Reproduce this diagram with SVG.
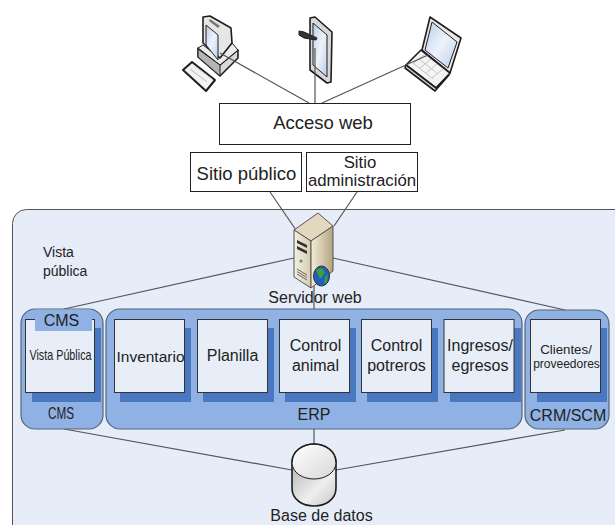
<svg xmlns="http://www.w3.org/2000/svg" width="615" height="525" viewBox="0 0 615 525">
<style>
text{font-family:"Liberation Sans",Arial,sans-serif;fill:#222;text-anchor:middle}
.f18{font-size:18.500px}.f17{font-size:16.800px}.f16{font-size:16px}.f15{font-size:15.500px}
.box{fill:#fff;stroke:#222;stroke-width:1}
.wbox{fill:#e8eef8;stroke:#333;stroke-width:1}
.sh{fill:#4a78c0}
.grp{fill:#8fb1e3;stroke:#55657a;stroke-width:1.2}
.ln{stroke:#555;stroke-width:1.2;fill:none}
.ic{stroke:#1e1e1e;stroke-width:1.6;stroke-linejoin:round}
</style>
<defs>
<linearGradient id="scr" x1="0" y1="0" x2="1" y2="1"><stop offset="0" stop-color="#b9cdea"/><stop offset=".5" stop-color="#eef3fb"/><stop offset="1" stop-color="#b9cdea"/></linearGradient>
<linearGradient id="srvF" x1="0" y1="0" x2="1" y2="0"><stop offset="0" stop-color="#f4efe2"/><stop offset="1" stop-color="#d8ccb0"/></linearGradient>
<linearGradient id="srvS" x1="0" y1="0" x2="1" y2="0"><stop offset="0" stop-color="#f3ecd9"/><stop offset="1" stop-color="#b5a47f"/></linearGradient>
<linearGradient id="cyl" x1="0" y1="0" x2="1" y2="1"><stop offset="0" stop-color="#b4b4b4"/><stop offset=".6" stop-color="#efefef"/><stop offset="1" stop-color="#c4c4c4"/></linearGradient>
<linearGradient id="cylT" x1="0" y1="0" x2="1" y2="1"><stop offset="0" stop-color="#fff"/><stop offset="1" stop-color="#d8d8d8"/></linearGradient>
</defs>
<rect width="615" height="525" fill="#fff"/>
<rect id="panel" x="12.500" y="209.500" width="620" height="340" rx="14" fill="#e6edf8" stroke="#555" stroke-width="1"/>
<g id="desktop" class="ic">
<path d="M183 70 192 62 215 80 206 91Z" fill="#f2f2f2" stroke-width="2"/>
<path d="M190 69 207 82M195 66 212 79" stroke="#bbb" stroke-width="1" fill="none"/>
<path d="M198 48 220 65 238 50V58L220 76 198 57Z" fill="#d8d8d8"/>
<path d="M198 48 203 45 220 58 232 43 238 50 220 65Z" fill="#ececec" stroke-width="1"/>
<path d="M198 49 220 65V76L198 57Z" fill="#b4b4b4" stroke-width="1"/>
<path d="M203 17 210 16 231 28 232 43 220 58 203 43Z" fill="#e6e6e6"/>
<path d="M210 19 220 26 218 28 209 21Z" fill="#777" stroke="none"/>
<path d="M206 25 218 35V60L206 45Z" fill="url(#scr)" stroke-width="1"/>
</g>
<g id="phone" class="ic">
<path d="M310 18 315 17 332 32 331 82 327 83 310 70Z" fill="#d8d8d8"/>
<path d="M313 23 327 35V77L313 65Z" fill="url(#scr)" stroke-width="1"/>
<path d="M299 31 304 32 317 38 316 40 304 38 299 35Z" fill="#333" stroke-width="1"/>
</g>
<g id="laptop" class="ic">
<path d="M430 17 461 38 450 73 422 50Z" fill="#e8e8e8"/>
<path d="M432 22 457 42 448 68 425 50Z" fill="url(#scr)" stroke-width="1"/>
<path d="M421 50 450 73 436 88 406 65Z" fill="#f4f4f4"/>
<path d="M406 65 436 88 449 75 435 91 405 68Z" fill="#ddd"/>
<path d="M414 63 425 54M420 68 431 59M426 73 437 64M432 78 443 69M418 58 438 74M413 63 433 79" stroke="#c4c4c4" stroke-width="1" fill="none"/>
</g>
<g id="connectors" class="ln">
<path d="M220 53 309 103M315 48V103M428 55 322 103M270 192 296 230M357 192 334 226M294 258 64 309M333 258 565 310M314 285V309M64 429 292 470M565 430 336 470M314 429V445"/>
</g>
<g id="acceso"><rect class="box" x="219.500" y="103.500" width="191" height="41"/><text class="f18" x="323" y="129">Acceso web</text></g>
<g id="sitio-publico"><rect class="box" x="190.500" y="152.500" width="111" height="39"/><text class="f18" x="246.500" y="180">Sitio público</text></g>
<g id="sitio-admin"><rect class="box" x="306.500" y="152.500" width="111" height="39"/><text class="f17" x="360" y="168">Sitio</text><text class="f17" x="362" y="186">administración</text></g>
<text x="43" y="257" font-size="14" style="text-anchor:start">Vista</text>
<text x="43" y="276" font-size="14" style="text-anchor:start">pública</text>
<g id="servidor">
<path d="M294 230 318 213 333 226 311 241Z" fill="#e2d8c0" stroke="#555"/>
<path d="M294 230 311 241V288L294 277Z" fill="url(#srvF)" stroke="#555"/>
<path d="M311 241 333 226V271L311 288Z" fill="url(#srvS)" stroke="#555"/>
<path d="M297 240 307 245V248L297 243ZM297 246 307 251V254L297 249Z" fill="#333"/>
<circle cx="301" cy="261" r="1.500" fill="#4a8a70"/>
<path d="M297 269 307 275M297 271.500 307 277.500M297 274 307 280" stroke="#666" fill="none"/>
<ellipse cx="321.500" cy="276" rx="8" ry="10" fill="#1f5fc0" stroke="#333"/>
<path d="M316 270 322 268 325 273 320 279ZM325 277 328 274 327 282 324 284Z" fill="#3ea03a"/>
<text class="f16" x="315" y="303">Servidor web</text>
</g>
<g id="cms">
<rect class="grp" x="21" y="309" width="82" height="120" rx="14"/>
<rect class="sh" x="32" y="328" width="69" height="74"/>
<rect class="wbox" x="25.500" y="319.500" width="69" height="73"/>
<rect x="35" y="309.500" width="57" height="21.500" fill="#8fb1e3"/>
<text class="f16" x="61.500" y="326">CMS</text>
<text x="60.500" y="360" font-size="14.500" textLength="62" lengthAdjust="spacingAndGlyphs">Vista Pública</text>
<text x="61" y="419" font-size="17" textLength="26" lengthAdjust="spacingAndGlyphs">CMS</text>
</g>
<g id="erp">
<rect class="grp" x="106" y="309" width="416" height="120" rx="14"/>
<rect class="sh" x="120" y="328" width="71" height="74"/><rect class="sh" x="203" y="328" width="71" height="74"/><rect class="sh" x="285" y="328" width="71" height="74"/><rect class="sh" x="367" y="328" width="71" height="74"/><rect class="sh" x="450" y="328" width="71" height="74"/>
<g id="inventario"><rect class="wbox" x="114.500" y="319.500" width="70" height="73"/><text class="f15" x="150.500" y="362">Inventario</text></g>
<g id="planilla"><rect class="wbox" x="197.500" y="319.500" width="70" height="73"/><text class="f16" x="232.500" y="361">Planilla</text></g>
<g id="control-animal"><rect class="wbox" x="279.500" y="319.500" width="70" height="73"/><text class="f16" x="315.500" y="351">Control</text><text class="f16" x="315.500" y="371">animal</text></g>
<g id="control-potreros"><rect class="wbox" x="361.500" y="319.500" width="70" height="73"/><text class="f16" x="396.500" y="351">Control</text><text class="f16" x="396.500" y="371">potreros</text></g>
<g id="ingresos"><rect class="wbox" x="444" y="319.500" width="70" height="73"/><text class="f16" x="480" y="351">Ingresos/</text><text class="f16" x="480" y="371">egresos</text></g>
<text class="f16" x="314" y="420">ERP</text>
</g>
<g id="crm">
<rect class="grp" x="525" y="310" width="84" height="119" rx="14"/>
<rect class="sh" x="537" y="328" width="70" height="74"/>
<rect class="wbox" x="530.500" y="319.500" width="70" height="73"/>
<text x="566" y="354" font-size="13.300">Clientes/</text>
<text x="566.500" y="368" font-size="12">proveedores</text>
<text class="f16" x="568" y="421">CRM/SCM</text>
</g>
<g id="base">
<path d="M292 462V488C292 500 303 506 314 506S336 500 336 488V462Z" fill="url(#cyl)" stroke="#1e1e1e" stroke-width="1.600"/>
<path d="M292 462C292 451 303 444 314 444S336 451 336 462C336 473 325 479 314 479S292 473 292 462Z" fill="url(#cylT)" stroke="#1e1e1e" stroke-width="1"/>
<path d="M292 462C292 451 303 444 314 444S336 451 336 462" fill="none" stroke="#1e1e1e" stroke-width="1.600"/>
<text class="f16" x="321.500" y="521">Base de datos</text>
</g>
</svg>
